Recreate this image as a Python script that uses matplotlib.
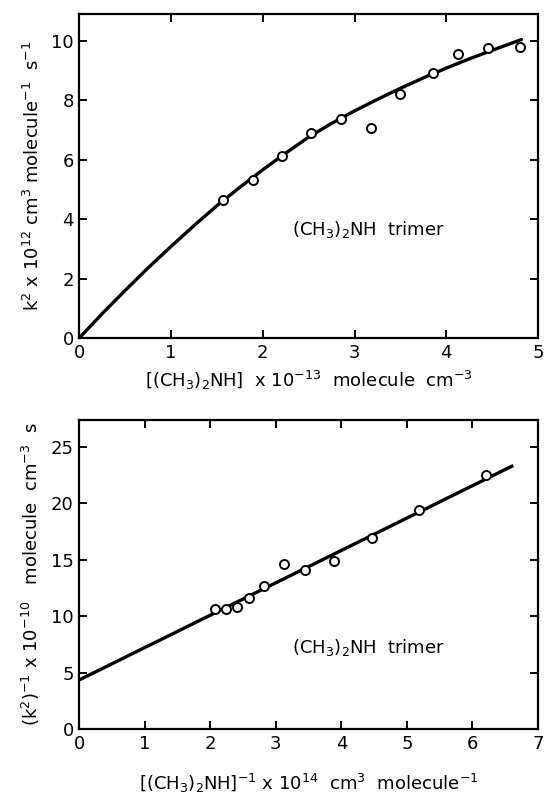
import matplotlib
matplotlib.use("Agg")
import matplotlib.pyplot as plt

plt.rcParams["font.family"] = ["DejaVu Sans"]
plt.rcParams["mathtext.default"] = "regular"

# ── top panel: k2 vs [(CH3)2NH] ──
conc = [1.57, 1.89, 2.21, 2.53, 2.85, 3.18, 3.50, 3.85, 4.13, 4.45, 4.80]
k2 = [4.65, 5.32, 6.12, 6.91, 7.36, 7.07, 8.22, 8.91, 9.55, 9.75, 9.78]
# fitted curve
curve_x = [0, 0.25, 0.5, 0.75, 1.0, 1.25, 1.5, 1.75, 2.0, 2.25, 2.5,
           2.75, 3.0, 3.25, 3.5, 3.75, 4.0, 4.25, 4.5, 4.82]
curve_y = [0, 0.82, 1.60, 2.36, 3.08, 3.78, 4.45, 5.07, 5.66, 6.22, 6.76,
           7.22, 7.64, 8.03, 8.40, 8.75, 9.08, 9.39, 9.68, 10.04]

# ── bottom panel: 1/k2 vs 1/[(CH3)2NH] ──
inv_conc = [2.07, 2.24, 2.40, 2.59, 2.82, 3.12, 3.45, 3.89, 4.46, 5.19, 6.21]
inv_k2 = [10.65, 10.65, 10.83, 11.62, 12.65, 14.65, 14.12, 14.92, 16.97, 19.42, 22.5]
line_x = [0, 6.60]
line_y = [4.35, 23.3]

FS = 13

fig = plt.figure(figsize=(5.45, 8.0), dpi=100)
ax1 = fig.add_axes([0.1455, 0.5775, 0.8417, 0.405])
ax2 = fig.add_axes([0.1455, 0.0888, 0.8417, 0.3862])


def style(ax):
    for s in ax.spines.values():
        s.set_linewidth(1.6)
    ax.tick_params(direction="in", length=6, width=1.4, top=True, right=True,
                   labelsize=FS, pad=4)


ax1.plot(curve_x, curve_y, color="black", lw=2.4, solid_capstyle="round")
ax1.plot(conc, k2, "o", mfc="white", mec="black", mew=1.4, ms=6.5)
ax1.set_xlim(0, 5)
ax1.set_ylim(0, 10.9)
ax1.set_xticks(range(0, 6))
ax1.set_yticks(range(0, 11, 2))
style(ax1)
ax1.text(2.32, 3.65, "(CH$_3$)$_2$NH  trimer", fontsize=FS, va="center")
ax1.set_xlabel("[(CH$_3$)$_2$NH]  x 10$^{-13}$  molecule  cm$^{-3}$",
               fontsize=FS, labelpad=5)
ax1.set_ylabel("k$^2$ x 10$^{12}$ cm$^3$ molecule$^{-1}$  s$^{-1}$",
               fontsize=FS, labelpad=6)

ax2.plot(line_x, line_y, color="black", lw=2.4)
ax2.plot(inv_conc, inv_k2, "o", mfc="white", mec="black", mew=1.4, ms=6.5)
ax2.set_xlim(0, 7)
ax2.set_ylim(0, 27.4)
ax2.set_xticks(range(0, 8))
ax2.set_yticks(range(0, 26, 5))
style(ax2)
ax2.text(3.24, 7.2, "(CH$_3$)$_2$NH  trimer", fontsize=FS, va="center")
ax2.set_xlabel("[(CH$_3$)$_2$NH]$^{-1}$ x 10$^{14}$  cm$^3$  molecule$^{-1}$",
               fontsize=FS, labelpad=14)
ax2.set_ylabel("(k$^2$)$^{-1}$ x 10$^{-10}$   molecule  cm$^{-3}$  s",
               fontsize=FS, labelpad=6)

fig.savefig("out.png", dpi=100)
